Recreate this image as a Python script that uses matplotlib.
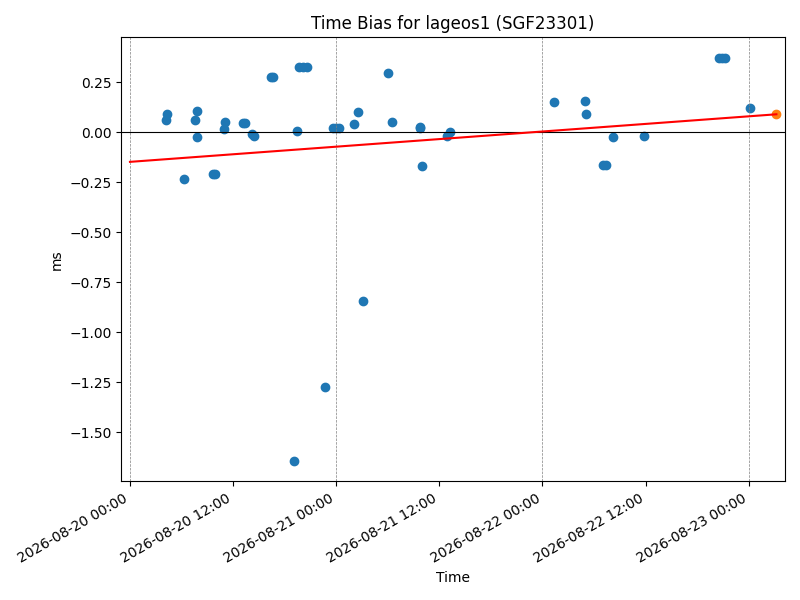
import numpy as np
import pandas as pd
import matplotlib
matplotlib.use('Agg')
import matplotlib.pyplot as plt
import matplotlib.dates as mdates

# observed time bias (ms)
times = ['2026-08-20 04:12', '2026-08-20 04:16', '2026-08-20 06:18', '2026-08-20 07:32',
         '2026-08-20 07:47', '2026-08-20 07:51', '2026-08-20 09:41', '2026-08-20 09:56',
         '2026-08-20 10:56', '2026-08-20 11:03', '2026-08-20 13:06', '2026-08-20 13:21',
         '2026-08-20 14:12', '2026-08-20 14:28', '2026-08-20 16:23', '2026-08-20 16:41',
         '2026-08-20 19:06', '2026-08-20 19:29', '2026-08-20 19:42', '2026-08-20 20:11',
         '2026-08-20 20:38', '2026-08-20 22:43', '2026-08-20 23:37', '2026-08-20 23:59',
         '2026-08-21 00:19', '2026-08-21 02:07', '2026-08-21 02:34', '2026-08-21 03:09',
         '2026-08-21 06:04', '2026-08-21 06:33', '2026-08-21 09:42', '2026-08-21 09:43',
         '2026-08-21 10:02', '2026-08-21 12:52', '2026-08-21 13:15', '2026-08-22 01:20',
         '2026-08-22 04:55', '2026-08-22 05:04', '2026-08-22 07:05', '2026-08-22 07:26',
         '2026-08-22 08:14', '2026-08-22 11:50', '2026-08-22 20:34', '2026-08-22 20:54',
         '2026-08-22 21:16', '2026-08-23 00:13']
bias = [0.063, 0.091, -0.234, 0.060,
        0.105, -0.026, -0.211, -0.211,
        0.018, 0.050, 0.048, 0.048,
        -0.008, -0.018, 0.277, 0.277,
        -1.646, 0.008, 0.327, 0.327,
        0.327, -1.272, 0.020, 0.020,
        0.020, 0.040, 0.100, -0.844,
        0.297, 0.050, 0.025, 0.020,
        -0.171, -0.017, 0.002, 0.153,
        0.158, 0.090, -0.166, -0.166,
        -0.026, -0.021, 0.374, 0.374,
        0.374, 0.120]

# linear fit line and prediction
fit_times = ['2026-08-20 00:00', '2026-08-23 03:14']
fit_vals = [-0.148, 0.090]
pred_time = '2026-08-23 03:14'
pred_val = 0.090

days = ['2026-08-20', '2026-08-21', '2026-08-22', '2026-08-23']

t = pd.to_datetime(times)
ft = pd.to_datetime(fit_times)
pt = pd.to_datetime(pred_time)

fig, ax = plt.subplots(figsize=(8, 6), dpi=100)
for d in pd.to_datetime(days):
    ax.axvline(d, color='gray', linestyle='--', linewidth=0.5)
ax.axhline(0, color='k', linewidth=0.8)
ax.scatter(t, bias, color='C0')
ax.plot(ft, fit_vals, color='red')
ax.scatter([pt], [pred_val], color='C1')

ax.set_xlim(ft[0] - pd.Timedelta(hours=1), pt + pd.Timedelta(hours=1))
ax.xaxis.set_major_locator(mdates.HourLocator(byhour=[0, 12]))
ax.xaxis.set_major_formatter(mdates.DateFormatter('%Y-%m-%d %H:%M'))
ax.set_title('Time Bias for lageos1 (SGF23301)')
ax.set_xlabel('Time')
ax.set_ylabel('ms')
fig.autofmt_xdate()
fig.tight_layout()
fig.savefig('out.png')
